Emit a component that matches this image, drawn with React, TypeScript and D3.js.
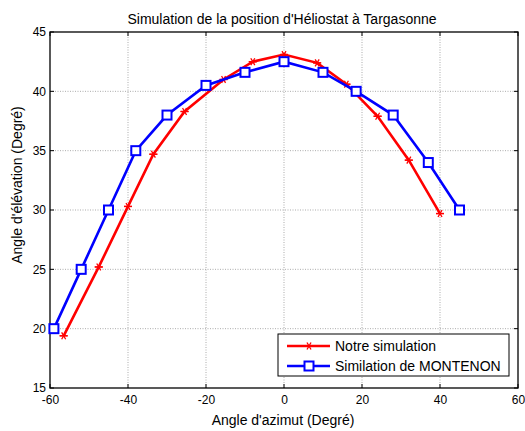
import { useEffect, useRef } from 'react'
import * as d3 from 'd3'

// Notre simulation
const ourAzimuth = [-56.5, -47.5, -40, -33.5, -25.5, -15.5, -8, 0, 8.5, 16, 24, 32, 40]
const ourElevation = [19.4, 25.2, 30.3, 34.7, 38.3, 41, 42.5, 43.1, 42.4, 40.6, 37.9, 34.2, 29.7]

// Similation de MONTENON
const montAzimuth = [-59, -52, -45, -38, -30, -20, -10, 0, 10, 18.5, 28, 37, 45]
const montElevation = [20, 25, 30, 35, 38, 40.5, 41.6, 42.5, 41.6, 40, 38, 34, 30]

const xTicks = [-60, -40, -20, 0, 20, 40, 60]
const yTicks = [15, 20, 25, 30, 35, 40, 45]

const seriesNames = ['Notre simulation', 'Similation de MONTENON']

const App = () => {
  const svgRef = useRef(null)

  useEffect(() => {
    const width = 525
    const height = 431
    const left = 50
    const right = 518
    const top = 32
    const bottom = 388
    const font = 'Liberation Sans, Arial, sans-serif'

    const svg = d3.select(svgRef.current).attr('width', width).attr('height', height)
    svg.selectAll('*').remove()

    const x = d3.scaleLinear().domain([-60, 60]).range([left, right])
    const y = d3.scaleLinear().domain([15, 45]).range([bottom, top])

    svg.append('rect').attr('width', width).attr('height', height).attr('fill', '#fff')

    // grid
    const grid = svg.append('g').attr('stroke', '#888').attr('stroke-width', 0.7).attr('stroke-dasharray', '1,1.5')
    xTicks.slice(1, -1).forEach((t) => {
      grid.append('line').attr('x1', x(t)).attr('x2', x(t)).attr('y1', top).attr('y2', bottom)
    })
    yTicks.slice(1, -1).forEach((t) => {
      grid.append('line').attr('x1', left).attr('x2', right).attr('y1', y(t)).attr('y2', y(t))
    })

    // axes (ticks inside, on all four sides)
    const axisG = svg.append('g').attr('stroke', '#000').attr('stroke-width', 1)
    xTicks.forEach((t) => {
      axisG.append('line').attr('x1', x(t)).attr('x2', x(t)).attr('y1', bottom).attr('y2', bottom - 4)
      axisG.append('line').attr('x1', x(t)).attr('x2', x(t)).attr('y1', top).attr('y2', top + 4)
    })
    yTicks.forEach((t) => {
      axisG.append('line').attr('x1', left).attr('x2', left + 4).attr('y1', y(t)).attr('y2', y(t))
      axisG.append('line').attr('x1', right).attr('x2', right - 4).attr('y1', y(t)).attr('y2', y(t))
    })

    svg
      .append('g')
      .attr('transform', `translate(0,${bottom})`)
      .call(d3.axisBottom(x).tickValues(xTicks).tickSize(0).tickPadding(7).tickFormat((d) => String(d)))
      .call((g) => g.select('.domain').remove())
      .selectAll('text')
      .attr('font-family', font)
      .attr('font-size', 12)
      .attr('fill', '#000')

    svg
      .append('g')
      .attr('transform', `translate(${left},0)`)
      .call(d3.axisLeft(y).tickValues(yTicks).tickSize(0).tickPadding(4).tickFormat((d) => String(d)))
      .call((g) => g.select('.domain').remove())
      .selectAll('text')
      .attr('font-family', font)
      .attr('font-size', 12)
      .attr('fill', '#000')

    svg
      .append('rect')
      .attr('x', left)
      .attr('y', top)
      .attr('width', right - left)
      .attr('height', bottom - top)
      .attr('fill', 'none')
      .attr('stroke', '#000')
      .attr('stroke-width', 1.3)

    // series
    const line = d3
      .line<[number, number]>()
      .x((d) => x(d[0]))
      .y((d) => y(d[1]))

    const ourData = ourAzimuth.map((a, i) => [a, ourElevation[i]] as [number, number])
    const montData = montAzimuth.map((a, i) => [a, montElevation[i]] as [number, number])

    const star = (g: any, cx: number, cy: number) => {
      const r = 4
      const s = g.append('g').attr('stroke', '#ff0000').attr('stroke-width', 1.3)
      ;[0, 60, 120].forEach((a) => {
        const rad = (a * Math.PI) / 180
        s.append('line')
          .attr('x1', cx - r * Math.cos(rad))
          .attr('y1', cy - r * Math.sin(rad))
          .attr('x2', cx + r * Math.cos(rad))
          .attr('y2', cy + r * Math.sin(rad))
      })
      s.append('line').attr('x1', cx - r).attr('x2', cx + r).attr('y1', cy).attr('y2', cy)
    }
    const square = (g: any, cx: number, cy: number) => {
      g.append('rect')
        .attr('x', cx - 4.5)
        .attr('y', cy - 4.5)
        .attr('width', 9)
        .attr('height', 9)
        .attr('fill', '#fff')
        .attr('stroke', '#0000ff')
        .attr('stroke-width', 2)
    }

    const plot = svg.append('g')
    plot
      .append('path')
      .datum(ourData)
      .attr('d', line)
      .attr('fill', 'none')
      .attr('stroke', '#ff0000')
      .attr('stroke-width', 2.6)
    ourData.forEach((d) => star(plot, x(d[0]), y(d[1])))

    plot
      .append('path')
      .datum(montData)
      .attr('d', line)
      .attr('fill', 'none')
      .attr('stroke', '#0000ff')
      .attr('stroke-width', 2.6)
    montData.forEach((d) => square(plot, x(d[0]), y(d[1])))

    // legend
    const lg = svg.append('g')
    lg.append('rect')
      .attr('x', 278)
      .attr('y', 334)
      .attr('width', 231)
      .attr('height', 42)
      .attr('fill', '#fff')
      .attr('stroke', '#000')
      .attr('stroke-width', 1)
    const colors = ['#ff0000', '#0000ff']
    seriesNames.forEach((name, i) => {
      const cy = 346 + i * 20
      lg.append('line')
        .attr('x1', 287)
        .attr('x2', 330)
        .attr('y1', cy)
        .attr('y2', cy)
        .attr('stroke', colors[i])
        .attr('stroke-width', 2.6)
      if (i === 0) star(lg, 309, cy)
      else square(lg, 309, cy)
      lg.append('text')
        .attr('x', 335)
        .attr('y', cy + 5)
        .attr('font-family', font)
        .attr('font-size', 14)
        .text(name)
    })

    // titles
    svg
      .append('text')
      .attr('x', 282)
      .attr('y', 24)
      .attr('text-anchor', 'middle')
      .attr('font-family', font)
      .attr('font-size', 14)
      .text("Simulation de la position d'Héliostat à Targasonne")

    svg
      .append('text')
      .attr('x', 283)
      .attr('y', 425)
      .attr('text-anchor', 'middle')
      .attr('font-family', font)
      .attr('font-size', 14)
      .text("Angle d'azimut  (Degré)")

    svg
      .append('text')
      .attr('transform', `translate(22,185) rotate(-90)`)
      .attr('text-anchor', 'middle')
      .attr('font-family', font)
      .attr('font-size', 14)
      .text("Angle d'élévation (Degré)")
  }, [])

  return <svg ref={svgRef} style={{ position: 'absolute', left: 0, top: 0 }}></svg>
}

export default App
